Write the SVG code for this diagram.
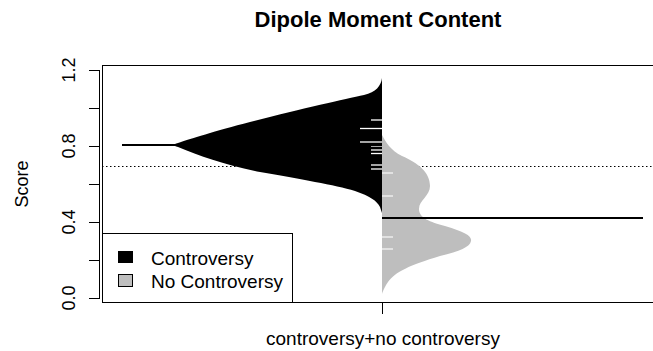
<svg xmlns="http://www.w3.org/2000/svg" width="653" height="351" viewBox="0 0 653 351">
<style>
text{font-family:"Liberation Sans",Arial,Helvetica,sans-serif;fill:#000}
.ax{stroke:#000;stroke-width:1;fill:none}
.rugb{stroke:#fff;stroke-width:1.3}
.rugg{stroke:#f4f4f4;stroke-width:1.3}
.lab{font-size:18px}
</style>
<rect width="653" height="351" fill="#fff"/>
<text x="378" y="27" text-anchor="middle" font-size="22" font-weight="bold">Dipole Moment Content</text>
<g id="plot">
<line x1="102" y1="166.5" x2="662" y2="166.5" stroke="#000" stroke-width="1" stroke-dasharray="1.5,2.5"/>
<path id="bean-controversy" fill="#000" d="M382,78 C381,86 376,92 364,95 C345,99 300,109 250,122 C215,131 190,139 178,143 Q170,145 178,147 C200,156 225,165 260,172 C300,179 335,185 355,191 C370,196 377,201 380,207 L382,213 Z"/>
<path id="bean-nocontroversy" fill="#bebebe" d="M382,135 C386,142 390,150 402,156 C418,163 430,172 430,186 C430,196 419,200 419,209 C419,218 430,222 445,226 C465,232 472,236 471,241 C470,247 460,251 440,256 C410,265 395,272 388,282 C384,288 383,291 382,294 Z"/>
<g id="rugs">
<line class="rugb" x1="371" y1="120" x2="382" y2="120"/>
<line class="rugb" x1="360" y1="128.5" x2="382" y2="128.5"/>
<line class="rugb" x1="360" y1="142" x2="382" y2="142"/>
<line class="rugb" x1="371" y1="146" x2="382" y2="146"/>
<line class="rugb" x1="371" y1="150" x2="382" y2="150"/>
<line class="rugb" x1="371" y1="153.5" x2="382" y2="153.5"/>
<line class="rugb" x1="371" y1="165" x2="382" y2="165"/>
<line class="rugb" x1="371" y1="169" x2="382" y2="169"/>
<line class="rugg" x1="382" y1="173" x2="393" y2="173"/>
<line class="rugg" x1="382" y1="196" x2="393" y2="196"/>
<line class="rugg" x1="382" y1="237" x2="393" y2="237"/>
<line class="rugg" x1="382" y1="249" x2="393" y2="249"/>
</g>
<line x1="122" y1="145" x2="382" y2="145" stroke="#000" stroke-width="2"/>
<line x1="382" y1="218" x2="643" y2="218" stroke="#000" stroke-width="2"/>
<rect class="ax" x="102.5" y="65.5" width="570" height="237"/>
</g>
<g id="yaxis">
<line class="ax" x1="99.5" y1="70" x2="99.5" y2="298"/>
<path class="ax" d="M89,70.5H100M89,108.5H100M89,146.5H100M89,184.5H100M89,222.5H100M89,260.5H100M89,298.5H100"/>
<text class="lab" transform="translate(75,70) rotate(-90)" text-anchor="middle">1.2</text>
<text class="lab" transform="translate(75,146) rotate(-90)" text-anchor="middle">0.8</text>
<text class="lab" transform="translate(75,222) rotate(-90)" text-anchor="middle">0.4</text>
<text class="lab" transform="translate(75,298) rotate(-90)" text-anchor="middle">0.0</text>
<text class="lab" transform="translate(28,184) rotate(-90)" text-anchor="middle">Score</text>
</g>
<g id="xaxis">
<line class="ax" x1="382.5" y1="303" x2="382.5" y2="314"/>
<text x="383" y="345" text-anchor="middle" font-size="19">controversy+no controversy</text>
</g>
<g id="legend">
<rect x="102.5" y="233.5" width="190" height="69" fill="#fff" stroke="#000"/>
<rect x="118.5" y="251.5" width="14" height="11" fill="#000" stroke="#000"/>
<rect x="118.5" y="274.5" width="14" height="12" fill="#bebebe" stroke="#000"/>
<text x="151" y="265" font-size="19">Controversy</text>
<text x="151" y="288" font-size="19">No Controversy</text>
</g>
</svg>
